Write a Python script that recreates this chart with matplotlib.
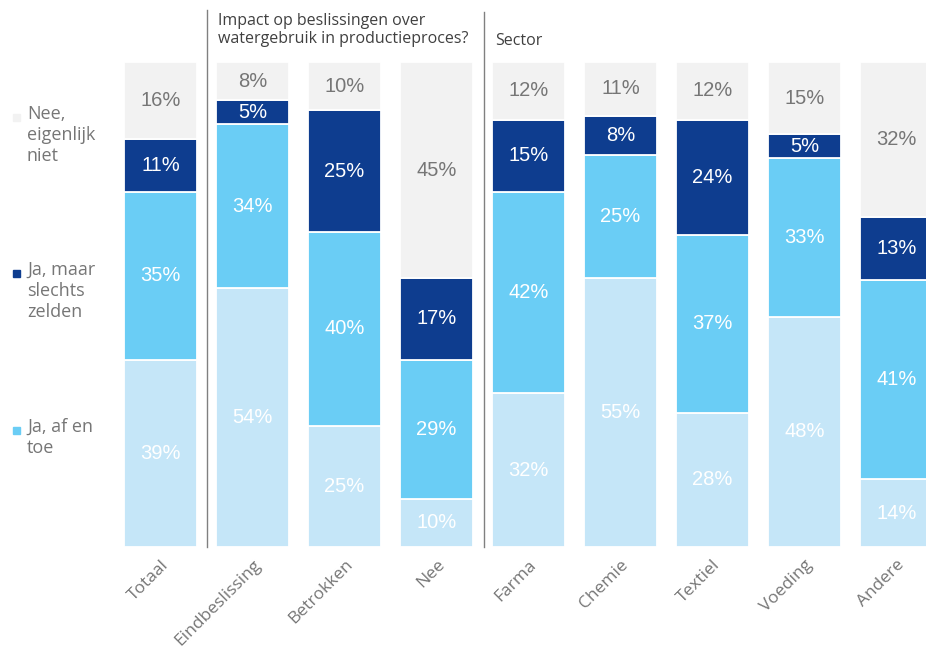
import numpy as np
import matplotlib
matplotlib.use("Agg")
import matplotlib.pyplot as plt
from matplotlib.patches import Rectangle

# data (percentages, bottom to top)
categories = ['Totaal', 'Eindbeslissing', 'Betrokken', 'Nee', 'Farma',
              'Chemie', 'Textiel', 'Voeding', 'Andere']
ja_regelmatig = [39, 54, 25, 10, 32, 55, 28, 48, 14]
ja_af_en_toe = [35, 34, 40, 29, 42, 25, 37, 33, 41]
ja_zelden = [11, 5, 25, 17, 15, 8, 24, 5, 13]
nee_niet = [16, 8, 10, 45, 12, 11, 12, 15, 32]

legend_labels = ['Nee,\neigenlijk\nniet', 'Ja, maar\nslechts\nzelden', 'Ja, af en\ntoe']
header_impact = 'Impact op beslissingen over\nwatergebruik in productieproces?'
header_sector = 'Sector'

col_light = '#C5E6F8'
col_mid = '#6ACDF5'
col_dark = '#0E3D8F'
col_gray = '#F2F2F2'
txt_gray = '#767676'

W, H = 926, 647
fig = plt.figure(figsize=(W / 100, H / 100), dpi=100)

def px(x, y):
    return x / W, 1 - y / H

# axes placed in pixel terms
ax_left, ax_right, ax_top, ax_bot = 114, 926, 62, 547
ax = fig.add_axes([ax_left / W, 1 - ax_bot / H, (ax_right - ax_left) / W, (ax_bot - ax_top) / H])
step = 92.0
c0 = 160.5
ax.set_xlim(-(c0 - ax_left) / step, (ax_right - c0) / step)
ax.set_ylim(0, 100)

series = [ja_regelmatig, ja_af_en_toe, ja_zelden, nee_niet]
colors = [col_light, col_mid, col_dark, col_gray]
tcolors = ['white', 'white', 'white', txt_gray]

x = np.arange(len(categories))
data = np.array(series, dtype=float)
totals = data.sum(axis=0)
norm = data / totals * 100
bottom = np.zeros(len(categories))
for k in range(len(series)):
    ax.bar(x, norm[k], 0.795, bottom=bottom, color=colors[k], edgecolor='white', linewidth=1.3)
    for i in range(len(categories)):
        ax.text(x[i], bottom[i] + norm[k][i] / 2, '%d%%' % data[k][i], ha='center', va='center',
                color=tcolors[k], fontsize=14.5, family='Liberation Sans')
    bottom += norm[k]

ax.set_xticks(x)
ax.set_xticklabels(categories, rotation=45, ha='right', rotation_mode='anchor',
                   fontsize=12.5, color=txt_gray, family='Open Sans')
ax.tick_params(axis='x', length=0, pad=7)
ax.set_yticks([])
for s in ax.spines.values():
    s.set_visible(False)

# divider lines
for xd, ytop in [(207, 10), (484, 12)]:
    fig.add_artist(plt.Line2D([xd / W, xd / W], [1 - ytop / H, 1 - 547 / H], color='#808080', linewidth=1))

fig.text(*px(218, 30), header_impact, ha='left', va='center', fontsize=11.5, color='#404040',
         family='Open Sans', linespacing=1.15)
fig.text(*px(495, 41), header_sector, ha='left', va='center', fontsize=11.5, color='#404040',
         family='Open Sans')

# legend on the left
leg_colors = [col_gray, col_dark, col_mid]
leg_y = [117, 273, 430]
for lab, c, yy in zip(legend_labels, leg_colors, leg_y):
    fig.add_artist(Rectangle(px(13, yy + 4), 7 / W, 7 / H, color=c, transform=fig.transFigure))
    fig.text(*px(27, yy - 12), lab, ha='left', va='top', fontsize=13, color=txt_gray,
             family='Open Sans', linespacing=1.2)

fig.savefig('out.png', dpi=100)
